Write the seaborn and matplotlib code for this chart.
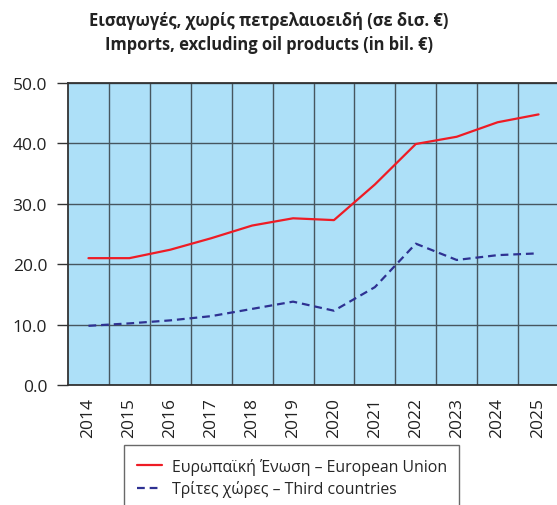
import matplotlib
matplotlib.use("Agg")
import matplotlib.pyplot as plt
import seaborn as sns
import pandas as pd
from matplotlib.ticker import FixedLocator, FormatStrFormatter

years = ["2014", "2015", "2016", "2017", "2018", "2019",
         "2020", "2021", "2022", "2023", "2024", "2025"]
eu_values = [21.0, 21.0, 22.4, 24.3, 26.4, 27.6, 27.3, 33.2, 39.9, 41.1, 43.5, 44.8]
third_values = [9.8, 10.2, 10.7, 11.4, 12.6, 13.8, 12.3, 16.2, 23.4, 20.7, 21.5, 21.8]
series_names = ["Ευρωπαϊκή Ένωση – European Union", "Τρίτες χώρες – Third countries"]
title_text = "Εισαγωγές, χωρίς πετρελαιοειδή (σε δισ. €)\nImports, excluding oil products (in bil. €)"

df = pd.DataFrame({
    "year": years * 2,
    "value": eu_values + third_values,
    "series": [series_names[0]] * len(years) + [series_names[1]] * len(years),
})

sns.set_style("white")
plt.rcParams["font.family"] = ["Open Sans", "DejaVu Sans"]

W, H = 557, 506
fig = plt.figure(figsize=(W / 100, H / 100), dpi=100)
ax = fig.add_axes([68 / W, 1 - 386 / H, (559 - 68) / W, (386 - 84) / H])
ax.set_facecolor("#ade0f8")

palette = {series_names[0]: "#ee1c25", series_names[1]: "#2e3192"}
dashes = {series_names[0]: "", series_names[1]: (3.5, 2.2)}
sns.lineplot(data=df, x="year", y="value", hue="series", style="series",
             palette=palette, dashes=dashes, linewidth=1.6, ax=ax, legend=True)

ax.set_xlim(-0.5, len(years) - 0.5)
ax.set_ylim(0, 50)
ax.set_yticks([0, 10, 20, 30, 40, 50])
ax.yaxis.set_major_formatter(FormatStrFormatter("%.1f"))
ax.xaxis.set_minor_locator(FixedLocator([i + 0.5 for i in range(len(years) - 1)]))

ax.grid(False)
ax.grid(True, which="minor", axis="x", color="#46565f", linewidth=1.0)
ax.grid(True, which="major", axis="y", color="#46565f", linewidth=1.0)
ax.set_axisbelow(True)

for s in ax.spines.values():
    s.set_color("#333333")
    s.set_linewidth(1.3)

ax.tick_params(axis="y", which="major", direction="out", length=8, width=1,
               color="#333333", labelsize=12.5, labelcolor="#222222", pad=7, left=True)
ax.tick_params(axis="x", which="both", length=0, labelsize=12.5, labelcolor="#222222",
               pad=9, labelrotation=90)
ax.set_xlabel("")
ax.set_ylabel("")

handles, labels = ax.get_legend_handles_labels()
ax.get_legend().remove()
leg = fig.legend(handles, labels, loc="upper left",
                 bbox_to_anchor=(124 / W, 1 - 446 / H),
                 frameon=True, fancybox=False, fontsize=11.4,
                 handlelength=1.6, handletextpad=0.6, borderpad=0.8,
                 labelspacing=0.35, borderaxespad=0)
leg.get_frame().set_edgecolor("#444444")
leg.get_frame().set_linewidth(1.0)

fig.text(269 / W, 1 - 33 / H, title_text, ha="center", va="center",
         fontsize=11.9, fontweight="bold", color="#222222", linespacing=1.5)

fig.savefig("out.png", dpi=100)
